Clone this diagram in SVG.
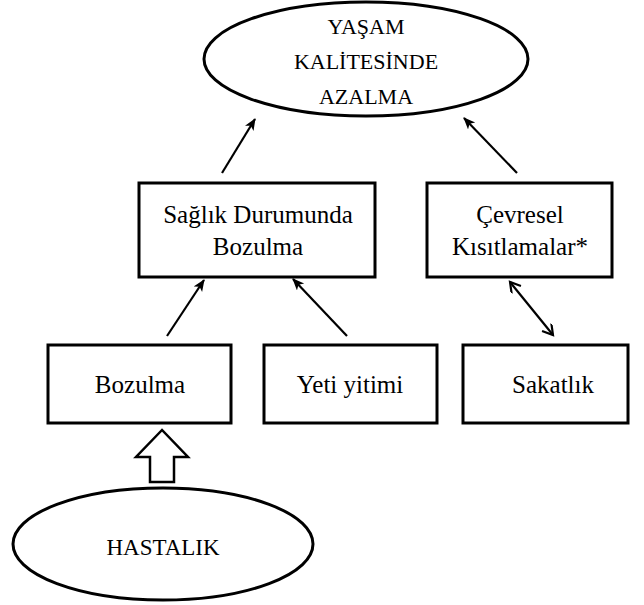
<svg xmlns="http://www.w3.org/2000/svg" width="644" height="605" viewBox="0 0 644 605">
<style>
.box{fill:#fff;stroke:#000;stroke-width:3}
.ell{fill:#fff;stroke:#000;stroke-width:3}
.t{font-family:"Liberation Serif","Times New Roman","DejaVu Serif",serif;font-size:25px;fill:#000;text-anchor:middle}
.c{fill:none;stroke:#000;stroke-width:2.2}
</style>
<defs>
<marker id="ah" markerUnits="userSpaceOnUse" markerWidth="14" markerHeight="12" refX="11" refY="5" orient="auto">
<path d="M0,0 L12,5 L0,10 L3,5 z" fill="#000"/>
</marker>
<marker id="av" markerUnits="userSpaceOnUse" markerWidth="14" markerHeight="14" refX="11" refY="6" orient="auto-start-reverse">
<path d="M1,0 L11,6 L1,12" fill="none" stroke="#000" stroke-width="2.2"/>
</marker>
</defs>
<g id="yasam">
<ellipse class="ell" cx="366" cy="59" rx="162" ry="57"/>
<text class="t" style="font-size:22px" x="366" y="34">YAŞAM</text>
<text class="t" style="font-size:22px" x="366" y="69">KALİTESİNDE</text>
<text class="t" style="font-size:22px" x="366" y="104">AZALMA</text>
</g>
<g id="saglik">
<rect class="box" x="139" y="183" width="236" height="94"/>
<text class="t" x="258" y="223">Sağlık Durumunda</text>
<text class="t" x="258" y="255">Bozulma</text>
</g>
<g id="cevresel">
<rect class="box" x="427" y="183" width="185" height="94"/>
<text class="t" x="520" y="223">Çevresel</text>
<text class="t" x="520" y="255">Kısıtlamalar*</text>
</g>
<g id="bozulma">
<rect class="box" x="48" y="345" width="183" height="78"/>
<text class="t" x="140" y="393">Bozulma</text>
</g>
<g id="yeti">
<rect class="box" x="264" y="345" width="173" height="78"/>
<text class="t" x="350" y="393">Yeti yitimi</text>
</g>
<g id="sakatlik">
<rect class="box" x="463" y="345" width="165" height="78"/>
<text class="t" x="553" y="393">Sakatlık</text>
</g>
<g id="hastalik">
<ellipse class="ell" cx="163" cy="544" rx="150" ry="56"/>
<text class="t" style="font-size:23px" x="163" y="555">HASTALIK</text>
</g>
<g id="connectors">
<line class="c" x1="222" y1="173" x2="255" y2="119" marker-end="url(#ah)"/>
<line class="c" x1="517" y1="173" x2="464" y2="118" marker-end="url(#ah)"/>
<line class="c" x1="167" y1="336" x2="204" y2="280" marker-end="url(#ah)"/>
<line class="c" x1="347" y1="336" x2="293" y2="279" marker-end="url(#ah)"/>
<line class="c" x1="510" y1="282" x2="553" y2="335" marker-start="url(#av)" marker-end="url(#av)"/>
<path d="M162,430 L136,457 L150,457 L150,482 L174,482 L174,457 L188,457 Z" fill="#fff" stroke="#000" stroke-width="2.5" stroke-linejoin="miter"/>
</g>
</svg>
